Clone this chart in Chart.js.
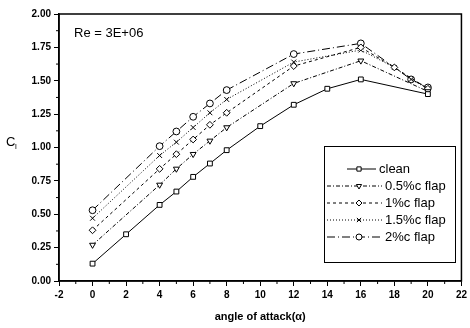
<!DOCTYPE html>
<html>
<head>
<meta charset="utf-8">
<script src="https://cdn.jsdelivr.net/npm/chart.js@4.4.0/dist/chart.umd.min.js"></script>
<style>
  body { margin: 0; background: #fff; }
  #wrap { width: 470px; height: 328px; }
</style>
</head>
<body>
<div id="wrap"><canvas id="myChart" width="470" height="328"></canvas></div>
<script>
const ctx = document.getElementById('myChart');

// angle of attack values
const xClean = [0, 2, 4, 5, 6, 7, 8, 10, 12, 14, 16, 20];
const x05 = [0, 4, 5, 6, 7, 8, 12, 16, 20];
const x10 = [0, 4, 5, 6, 7, 8, 12, 16, 18, 20];
const x15 = [0, 4, 5, 6, 7, 8, 12, 16, 18, 19, 20];
const x20 = [0, 4, 5, 6, 7, 8, 12, 16, 19, 20];

// Cl values
const clean = [0.13, 0.35, 0.57, 0.67, 0.78, 0.88, 0.98, 1.16, 1.32, 1.44, 1.51, 1.40];
const flap05 = [0.27, 0.72, 0.84, 0.95, 1.05, 1.15, 1.48, 1.65, 1.42];
const flap10 = [0.38, 0.84, 0.95, 1.06, 1.17, 1.26, 1.61, 1.75, 1.60, 1.44];
const flap15 = [0.47, 0.94, 1.04, 1.15, 1.26, 1.36, 1.64, 1.73, 1.60, 1.51, 1.44];
const flap20 = [0.53, 1.01, 1.12, 1.23, 1.33, 1.43, 1.70, 1.78, 1.51, 1.45];

const labels = ['clean', '0.5%c flap', '1%c flap', '1.5%c flap', '2%c flap'];

function pts(xs, ys) {
    return xs.map((x, i) => ({ x: x, y: ys[i] }));
}

function ds(label, data, dash, style, rot) {
    return {
        label: label,
        data: data,
        borderColor: '#000',
        borderWidth: 1,
        borderDash: dash,
        pointStyle: style,
        rotation: rot,
        pointRadius: 3.4,
        pointBackgroundColor: '#fff',
        pointBorderColor: '#000',
        pointBorderWidth: 1,
        tension: 0
    };
}

const datasets = [
    ds(labels[0], pts(xClean, clean), [], 'rect', 0),
    ds(labels[1], pts(x05, flap05), [4, 2, 1, 2], 'triangle', 180),
    ds(labels[2], pts(x10, flap10), [3, 3], 'rectRot', 0),
    ds(labels[3], pts(x15, flap15), [1, 2], 'crossRot', 0),
    ds(labels[4], pts(x20, flap20), [8, 3, 1, 3], 'circle', 0)
];

// frame, minor ticks, texts and legend box
const extras = {
    id: 'extras',
    afterDraw(chart) {
        const c = chart.ctx;
        const a = chart.chartArea;
        const xs = chart.scales.x, ys = chart.scales.y;
        c.save();
        c.strokeStyle = '#000';
        c.lineWidth = 1.5;
        c.strokeRect(a.left, a.top, a.right - a.left, a.bottom - a.top);

        // minor ticks
        c.lineWidth = 1;
        c.beginPath();
        for (let v = -1; v < 22; v += 2) {
            const px = xs.getPixelForValue(v);
            c.moveTo(px, a.bottom); c.lineTo(px, a.bottom + 3);
        }
        for (let v = 0.125; v < 2; v += 0.25) {
            const py = ys.getPixelForValue(v);
            c.moveTo(a.left, py); c.lineTo(a.left - 3, py);
        }
        c.stroke();

        // Re label
        c.fillStyle = '#000';
        c.font = '13px "Liberation Sans", Arial, sans-serif';
        c.textBaseline = 'middle';
        c.fillText('Re = 3E+06', a.left + 15, a.top + 19);

        // y title
        c.font = '13px "Liberation Sans", Arial, sans-serif';
        c.fillText('C', 6, 142);
        c.font = '8px "Liberation Sans", Arial, sans-serif';
        c.fillText('l', 15, 147);

        // legend
        const bx = 324, by = 146, bw = 131, bh = 116;
        c.fillStyle = '#fff';
        c.fillRect(bx, by, bw, bh);
        c.lineWidth = 1;
        c.strokeRect(bx + 0.5, by + 0.5, bw, bh);
        chart.data.datasets.forEach((d, i) => {
            const y = by + 23 + i * 17;
            c.strokeStyle = '#000';
            c.setLineDash(d.borderDash);
            c.beginPath();
            c.moveTo(i === 0 ? 347 : 327, y);
            c.lineTo(i === 0 ? 376 : 382, y);
            c.stroke();
            c.setLineDash([]);
            c.fillStyle = '#fff';
            Chart.helpers.drawPoint(c, {
                pointStyle: d.pointStyle, rotation: d.rotation, radius: 3, borderWidth: 1
            }, 359, y);
            c.fillStyle = '#000';
            c.font = '13px "Liberation Sans", Arial, sans-serif';
            c.fillText(d.label, i === 0 ? 379 : 385, y);
        });
        c.restore();
    }
};

const tickFont = { family: '"Liberation Sans", Arial, sans-serif', size: 10, weight: 'bold' };

new Chart(ctx, {
    type: 'line',
    data: { datasets: datasets },
    options: {
        responsive: false,
        animation: false,
        layout: { padding: { top: 14, right: 5 } },
        plugins: { legend: { display: false }, tooltip: { enabled: false } },
        scales: {
            x: {
                type: 'linear',
                min: -2, max: 22,
                ticks: { stepSize: 2, color: '#000', font: tickFont, padding: 3 },
                grid: { drawOnChartArea: false, tickLength: 5, color: '#000' },
                border: { color: '#000', width: 1.5 },
                title: {
                    display: true, text: 'angle of attack(α)', color: '#000',
                    font: { family: '"Liberation Sans", Arial, sans-serif', size: 11, weight: 'bold' },
                    padding: { top: 6 }
                },
                afterFit(s) { s.height = 47; }
            },
            y: {
                min: 0, max: 2,
                ticks: {
                    stepSize: 0.25, color: '#000', font: tickFont, padding: 3,
                    callback: v => v.toFixed(2)
                },
                grid: { drawOnChartArea: false, tickLength: 5, color: '#000' },
                border: { color: '#000', width: 1.5 },
                afterFit(s) { s.width = 59; }
            }
        }
    },
    plugins: [extras]
});
</script>
</body>
</html>
